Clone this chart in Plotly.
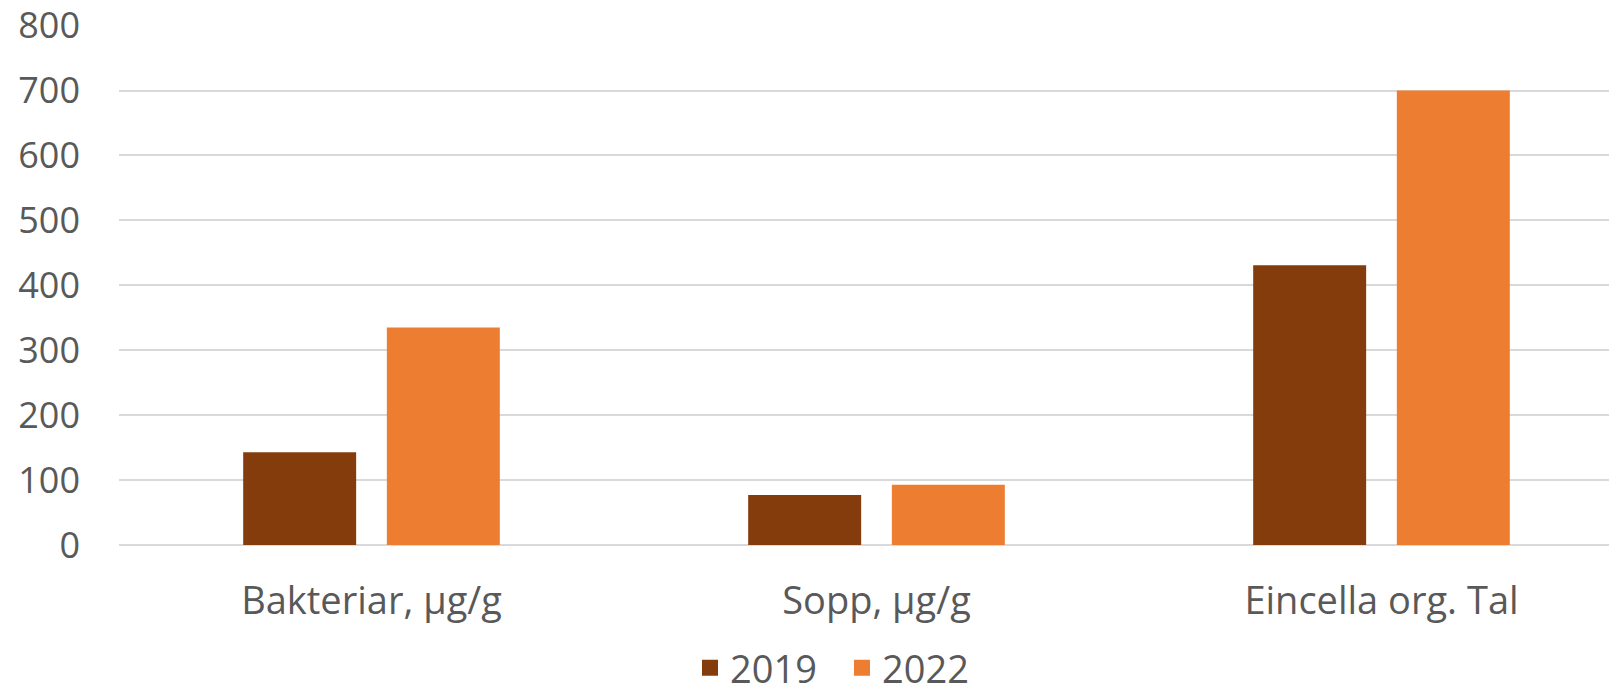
import plotly.graph_objects as go

categories = ["Bakteriar, µg/g", "Sopp, µg/g", "Eincella org. Tal"]
values_2019 = [143, 77, 431]
values_2022 = [335, 93, 700]
series_names = ["2019", "2022"]
colors = ["#843C0C", "#ED7D31"]
y_ticks = [0, 100, 200, 300, 400, 500, 600, 700, 800]

FONT = "Open Sans"
TXT = "#595959"

fig = go.Figure()
for name, vals, col in zip(series_names, [values_2019, values_2022], colors):
    fig.add_trace(go.Bar(x=categories, y=vals, name=name, marker_color=col,
                         marker_line_width=0, showlegend=False))
    # legend entry with a larger square swatch
    fig.add_trace(go.Scatter(x=[None], y=[None], mode="markers", name=name,
                             marker=dict(symbol="square", size=23, color=col),
                             showlegend=True))

# the page body adds an 8px margin on the left and top
BODY = 8
W, H = 1617 - BODY, 692 - BODY
ml, mt, mb = 119 - BODY, 25 - BODY, 147
plot_w = W - ml
cat_px = 505
fig.update_layout(
    width=W, height=H,
    margin=dict(l=ml, r=0, t=mt, b=mb, pad=0, autoexpand=False),
    paper_bgcolor="white", plot_bgcolor="white",
    barmode="group", bargap=0.431, bargroupgap=0.2137,
    font=dict(family=FONT, color=TXT, size=36),
    showlegend=True,
    legend=dict(orientation="h", xref="container", yref="container",
                x=(842 - BODY) / W, xanchor="center",
                y=(692 - 668) / H, yanchor="middle",
                font=dict(size=38, color=TXT), itemsizing="trace",
                entrywidth=107, bgcolor="rgba(0,0,0,0)"),
    xaxis=dict(type="category", range=[-0.5, -0.5 + plot_w / cat_px],
               showgrid=False, showline=False, zeroline=False, automargin=False,
               tickfont=dict(size=38, color=TXT), ticklabelstandoff=30),
    yaxis=dict(range=[0, 801], tickvals=y_ticks, showgrid=True, automargin=False,
               ticklabeloverflow="allow",
               gridcolor="#D9D9D9", gridwidth=1.5, zeroline=True,
               zerolinecolor="#D9D9D9", zerolinewidth=1.5, showline=False,
               tickfont=dict(size=36, color=TXT), ticklabelstandoff=38),
)
fig.write_html("out.html")
